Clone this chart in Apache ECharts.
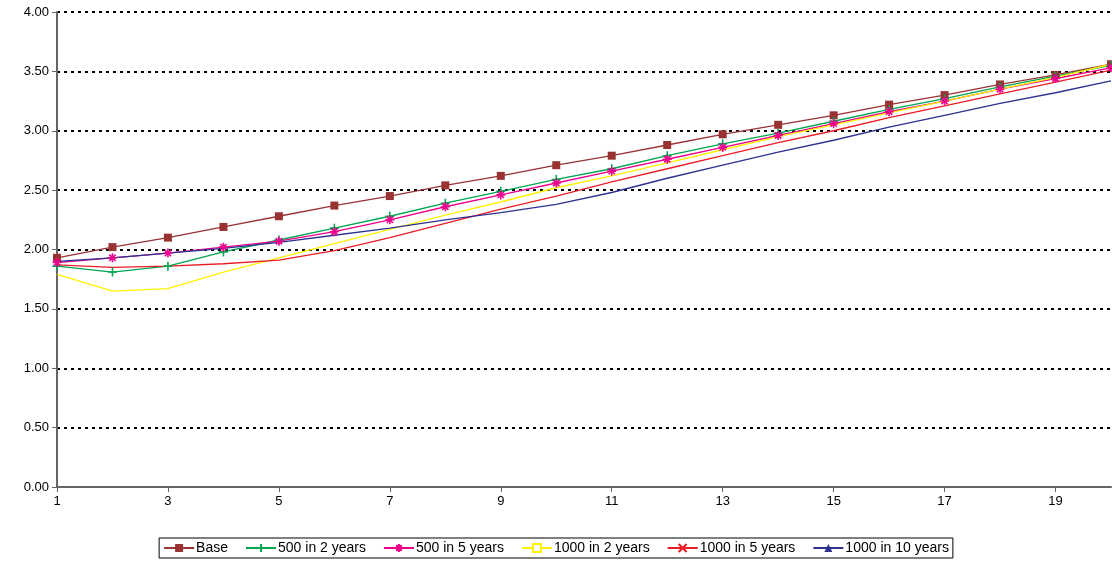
<!DOCTYPE html>
<html><head><meta charset="utf-8">
<script src="https://cdn.jsdelivr.net/npm/echarts@6/dist/echarts.min.js"></script>
<style>html,body{margin:0;padding:0;background:#fff}#c{width:1112px;height:562px}</style>
</head><body><div id="c"></div>
<script>
var years = [];
for (var i = 1; i <= 20; i++) years.push(String(i));
var base      = [1.93,2.02,2.10,2.19,2.28,2.37,2.45,2.54,2.62,2.71,2.79,2.88,2.97,3.05,3.13,3.22,3.30,3.39,3.47,3.56];
var in2y500   = [1.86,1.81,1.86,1.98,2.08,2.18,2.28,2.39,2.49,2.59,2.68,2.79,2.89,2.98,3.08,3.18,3.27,3.37,3.46,3.55];
var in5y500   = [1.89,1.93,1.97,2.02,2.07,2.15,2.25,2.36,2.46,2.56,2.66,2.76,2.86,2.96,3.06,3.16,3.25,3.35,3.44,3.53];
var in2y1000  = [1.79,1.65,1.67,1.81,1.93,2.05,2.17,2.29,2.40,2.52,2.62,2.73,2.84,2.95,3.05,3.15,3.25,3.35,3.45,3.56];
var in5y1000  = [1.87,1.85,1.86,1.88,1.91,1.99,2.10,2.22,2.34,2.45,2.57,2.68,2.79,2.90,3.00,3.11,3.21,3.31,3.41,3.51];
var in10y1000 = [1.90,1.93,1.97,2.01,2.06,2.12,2.18,2.25,2.31,2.38,2.48,2.60,2.71,2.82,2.92,3.03,3.13,3.23,3.32,3.42];

function line(name, data, color, symbol, show, size, stroke) {
    return {
        name: name, type: 'line', data: data, symbol: symbol, symbolSize: size,
        showSymbol: show, lineStyle: {color: color, width: 1.3},
        itemStyle: {color: stroke ? 'none' : color, borderColor: color, borderWidth: stroke ? 1.6 : 0},
        animation: false
    };
}
var star = 'path://M5,0L5,10M0,5L10,5M1.5,1.5L8.5,8.5M8.5,1.5L1.5,8.5';
var plus = 'path://M5,0L5,10M0,5L10,5';
var cross = 'path://M1,1L9,9M9,1L1,9';
var option = {
    textStyle: {fontFamily: 'Liberation Sans, Arial, sans-serif'},
    grid: {left: 57, right: 1, top: 12, bottom: 75},
    legend: {
        bottom: 4, left: 'center', itemGap: 17, itemWidth: 30, itemHeight: 10,
        borderColor: '#000', borderWidth: 1, padding: [3, 4], borderRadius: 0,
        textStyle: {fontSize: 14, color: '#000', padding: [0, 0, 0, -3]},
        data: ['Base','500 in 2 years','500 in 5 years','1000 in 2 years','1000 in 5 years','1000 in 10 years']
    },
    xAxis: {
        type: 'category', boundaryGap: false, data: years,
        axisLine: {lineStyle: {color: '#666', width: 2}},
        axisTick: {interval: 1, lineStyle: {color: '#666'}},
        axisLabel: {interval: 1, color: '#000', fontSize: 13}
    },
    yAxis: {
        type: 'value', min: 0, max: 4, interval: 0.5,
        axisLine: {show: true, lineStyle: {color: '#666', width: 2}},
        axisTick: {show: true, lineStyle: {color: '#666'}},
        axisLabel: {color: '#000', fontSize: 13, formatter: function (v) { return v.toFixed(2); }},
        splitLine: {lineStyle: {color: '#000', type: [3, 4], width: 2}}
    },
    series: [
        line('Base', base, '#993333', 'rect', true, 8, false),
        line('500 in 2 years', in2y500, '#00a651', plus, true, 9, true),
        line('500 in 5 years', in5y500, '#ec008c', star, true, 9, true),
        line('1000 in 2 years', in2y1000, '#fff200', 'emptyRect', false, 8, false),
        line('1000 in 5 years', in5y1000, '#ed1c24', cross, false, 8, true),
        line('1000 in 10 years', in10y1000, '#2e3192', 'triangle', false, 8, false)
    ]
};
var chart = echarts.init(document.getElementById('c'));
chart.setOption(option);
</script></body></html>
